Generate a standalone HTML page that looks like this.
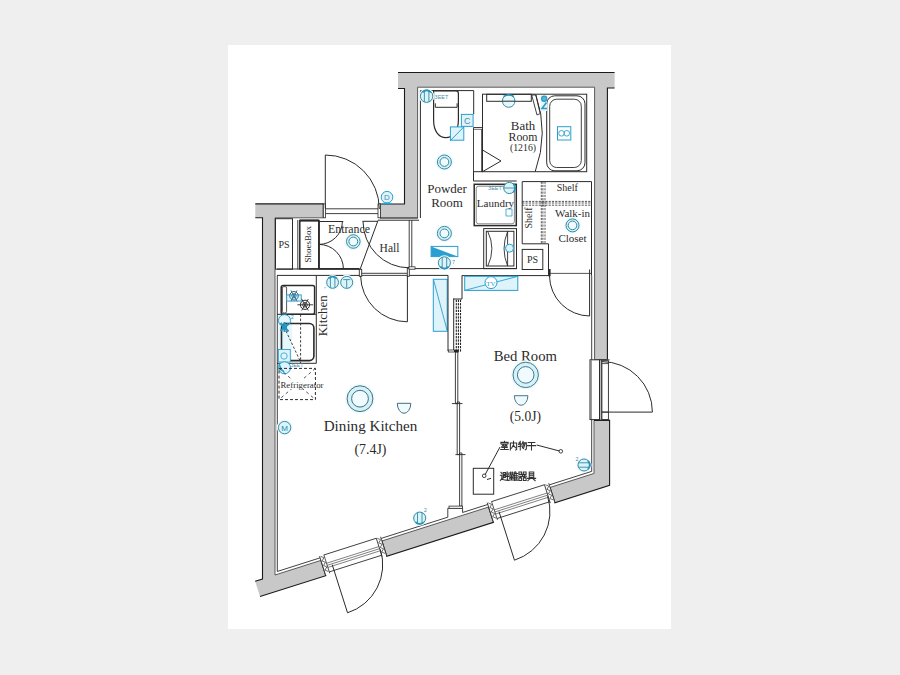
<!DOCTYPE html>
<html><head><meta charset="utf-8"><style>
html,body{margin:0;padding:0;background:#efefef;}
body{width:900px;height:675px;overflow:hidden;position:relative;font-family:"Liberation Serif",serif;}
svg{position:absolute;left:0;top:0;}
</style></head><body>
<svg width="900" height="675" viewBox="0 0 900 675">
<rect x="0" y="0" width="900" height="675" fill="#efefef"/>
<rect x="228" y="45" width="443" height="584" fill="#ffffff"/>
<polygon points="255.30,203.90 323.30,203.90 323.30,217.80 275.00,217.80 275.00,575.03 320.89,560.42 325.75,575.67 260.00,596.60 255.15,581.35 262.50,579.01 262.50,217.80 255.30,217.80" fill="#c8c8c8" stroke="none" stroke-width="0" />
<polyline points="255.15,581.35 262.50,579.01 262.50,217.80 255.30,217.80" fill="none" stroke="#1a1a1a" stroke-width="1.1" />
<polyline points="255.30,203.90 323.30,203.90 323.30,217.80" fill="none" stroke="#1a1a1a" stroke-width="1.1" />
<polyline points="323.30,217.80 275.00,217.80 275.00,575.03 320.89,560.42" fill="none" stroke="#5a5a5a" stroke-width="1.0" />
<polyline points="320.89,560.42 325.75,575.67 260.00,596.60" fill="none" stroke="#1a1a1a" stroke-width="1.1" />
<polygon points="398.00,72.50 614.60,72.50 614.60,88.00 607.40,88.00 607.40,359.60 594.60,359.60 594.60,87.20 417.60,87.20 417.60,218.00 380.00,218.00 380.00,204.00 404.50,204.00 404.50,88.50 398.00,88.50" fill="#c8c8c8" stroke="none" stroke-width="0" />
<polyline points="398.00,72.50 614.60,72.50" fill="none" stroke="#1a1a1a" stroke-width="1.2" />
<polyline points="614.60,88.00 607.40,88.00 607.40,359.60" fill="none" stroke="#1a1a1a" stroke-width="1.1" />
<polyline points="607.40,359.60 594.60,359.60 594.60,87.20 417.60,87.20 417.60,218.00 380.00,218.00" fill="none" stroke="#5a5a5a" stroke-width="1.0" />
<polyline points="380.00,218.00 380.00,204.00 404.50,204.00 404.50,88.50 398.00,88.50" fill="none" stroke="#1a1a1a" stroke-width="1.1" />
<polygon points="381.88,541.01 488.60,507.03 493.45,522.27 386.73,556.25" fill="#c8c8c8" stroke="none" stroke-width="0" />
<polyline points="381.88,541.01 488.60,507.03" fill="none" stroke="#5a5a5a" stroke-width="1.0" />
<polyline points="488.60,507.03 493.45,522.27 386.73,556.25 381.88,541.01" fill="none" stroke="#1a1a1a" stroke-width="1.1" />
<polygon points="550.06,487.46 594.00,473.47 594.00,420.40 609.60,420.40 609.60,485.30 554.91,502.71" fill="#c8c8c8" stroke="none" stroke-width="0" />
<polyline points="550.06,487.46 594.00,473.47 594.00,420.40" fill="none" stroke="#5a5a5a" stroke-width="1.0" />
<polyline points="594.00,420.40 609.60,420.40 609.60,485.30 554.91,502.71 550.06,487.46" fill="none" stroke="#1a1a1a" stroke-width="1.1" />
<polyline points="277.30,275.50 277.30,571.47 320.08,557.85" fill="none" stroke="#2b2b2b" stroke-width="0.9" />
<polygon points="319.53,556.13 323.82,554.77 329.73,573.35 325.44,574.71" fill="#fff" stroke="none" stroke-width="0" />
<line x1="319.53" y1="556.13" x2="325.44" y2="574.71" stroke="#2b2b2b" stroke-width="0.9" />
<line x1="323.82" y1="554.77" x2="329.73" y2="573.35" stroke="#2b2b2b" stroke-width="0.8" />
<polyline points="320.63,556.31 323.93,557.77 322.09,560.88 325.39,562.35 323.55,565.45 326.85,566.92 325.00,570.03 328.30,571.50" fill="none" stroke="#2b2b2b" stroke-width="0.7" />
<polygon points="376.23,538.08 380.51,536.72 386.43,555.30 382.14,556.66" fill="#fff" stroke="none" stroke-width="0" />
<line x1="376.23" y1="538.08" x2="382.14" y2="556.66" stroke="#2b2b2b" stroke-width="0.9" />
<line x1="380.51" y1="536.72" x2="386.43" y2="555.30" stroke="#2b2b2b" stroke-width="0.8" />
<polyline points="377.33,538.26 380.63,539.72 378.79,542.83 382.09,544.30 380.24,547.40 383.54,548.87 381.70,551.98 385.00,553.45" fill="none" stroke="#2b2b2b" stroke-width="0.7" />
<line x1="323.88" y1="554.96" x2="376.29" y2="538.27" stroke="#2b2b2b" stroke-width="0.9" />
<line x1="326.52" y1="563.25" x2="378.93" y2="546.56" stroke="#2b2b2b" stroke-width="0.6" />
<line x1="327.18" y1="565.35" x2="379.59" y2="548.66" stroke="#2b2b2b" stroke-width="0.6" />
<line x1="327.85" y1="567.44" x2="380.26" y2="550.76" stroke="#2b2b2b" stroke-width="0.6" />
<line x1="329.28" y1="571.92" x2="381.69" y2="555.24" stroke="#2b2b2b" stroke-width="0.9" />
<polygon points="487.23,502.74 491.52,501.38 497.44,519.96 493.15,521.32" fill="#fff" stroke="none" stroke-width="0" />
<line x1="487.23" y1="502.74" x2="493.15" y2="521.32" stroke="#2b2b2b" stroke-width="0.9" />
<line x1="491.52" y1="501.38" x2="497.44" y2="519.96" stroke="#2b2b2b" stroke-width="0.8" />
<polyline points="488.34,502.91 491.64,504.38 489.80,507.49 493.10,508.96 491.25,512.06 494.55,513.53 492.71,516.64 496.01,518.10" fill="none" stroke="#2b2b2b" stroke-width="0.7" />
<polygon points="544.41,484.54 548.70,483.17 554.61,501.75 550.32,503.12" fill="#fff" stroke="none" stroke-width="0" />
<line x1="544.41" y1="484.54" x2="550.32" y2="503.12" stroke="#2b2b2b" stroke-width="0.9" />
<line x1="548.70" y1="483.17" x2="554.61" y2="501.75" stroke="#2b2b2b" stroke-width="0.8" />
<polyline points="545.51,484.71 548.81,486.18 546.97,489.29 550.27,490.75 548.42,493.86 551.73,495.33 549.88,498.43 553.18,499.90" fill="none" stroke="#2b2b2b" stroke-width="0.7" />
<line x1="491.58" y1="501.57" x2="544.47" y2="484.73" stroke="#2b2b2b" stroke-width="0.9" />
<line x1="494.22" y1="509.86" x2="547.11" y2="493.02" stroke="#2b2b2b" stroke-width="0.6" />
<line x1="494.89" y1="511.95" x2="547.77" y2="495.12" stroke="#2b2b2b" stroke-width="0.6" />
<line x1="495.56" y1="514.05" x2="548.44" y2="497.21" stroke="#2b2b2b" stroke-width="0.6" />
<line x1="496.98" y1="518.53" x2="549.87" y2="501.69" stroke="#2b2b2b" stroke-width="0.9" />
<line x1="332.22" y1="564.69" x2="347.54" y2="612.81" stroke="#2b2b2b" stroke-width="1.0" />
<path d="M347.54,612.81 A50.5,50.5 0 0 0 380.34,549.37" fill="none" stroke="#2b2b2b" stroke-width="1"/>
<line x1="498.97" y1="511.60" x2="514.45" y2="560.19" stroke="#2b2b2b" stroke-width="1.0" />
<path d="M514.45,560.19 A51.0,51.0 0 0 0 547.57,496.13" fill="none" stroke="#2b2b2b" stroke-width="1"/>
<polyline points="381.06,538.43 447.80,517.18 447.80,508.30 462.60,508.30 462.60,512.47 487.78,504.46" fill="none" stroke="#2b2b2b" stroke-width="0.9" />
<polyline points="549.24,484.89 591.70,471.37 591.70,275.60" fill="none" stroke="#2b2b2b" stroke-width="0.9" />
<rect x="323.30" y="203.90" width="2.20" height="13.90" fill="#fff" stroke="#2b2b2b" stroke-width="0.8" />
<rect x="378.00" y="203.90" width="2.50" height="13.90" fill="#fff" stroke="#2b2b2b" stroke-width="0.8" />
<line x1="325.50" y1="208.80" x2="378.00" y2="208.80" stroke="#2b2b2b" stroke-width="0.9" />
<line x1="325.50" y1="213.60" x2="378.00" y2="213.60" stroke="#2b2b2b" stroke-width="0.9" />
<line x1="325.30" y1="155.00" x2="325.30" y2="208.50" stroke="#2b2b2b" stroke-width="1.0" />
<path d="M325.3,155 A54,54 0 0 1 379.3,209" fill="none" stroke="#2b2b2b" stroke-width="1"/>
<line x1="277.00" y1="269.00" x2="359.40" y2="269.00" stroke="#2b2b2b" stroke-width="1.0" />
<line x1="409.30" y1="268.60" x2="516.70" y2="268.60" stroke="#2b2b2b" stroke-width="1.0" />
<line x1="277.00" y1="275.40" x2="359.40" y2="275.40" stroke="#2b2b2b" stroke-width="1.0" />
<line x1="409.30" y1="275.40" x2="448.00" y2="275.40" stroke="#2b2b2b" stroke-width="1.0" />
<line x1="361.70" y1="273.30" x2="407.30" y2="273.30" stroke="#2b2b2b" stroke-width="0.9" />
<line x1="361.70" y1="275.40" x2="407.30" y2="275.40" stroke="#2b2b2b" stroke-width="0.9" />
<line x1="462.00" y1="275.60" x2="549.00" y2="275.60" stroke="#2b2b2b" stroke-width="1.0" />
<rect x="359.30" y="269.30" width="2.40" height="7.00" fill="#fff" stroke="#2b2b2b" stroke-width="0.9" />
<rect x="407.30" y="268.00" width="2.00" height="8.30" fill="#fff" stroke="#2b2b2b" stroke-width="0.9" />
<line x1="407.40" y1="276.00" x2="407.40" y2="321.80" stroke="#2b2b2b" stroke-width="1.0" />
<path d="M360.6,276 A46.8,46.8 0 0 0 407.4,321.8" fill="none" stroke="#2b2b2b" stroke-width="1.0" />
<rect x="275.50" y="218.70" width="17.00" height="50.50" fill="none" stroke="#2b2b2b" stroke-width="1.0" />
<text x="284.00" y="248.00" font-size="10" text-anchor="middle" fill="#2b2b2b" >PS</text>
<line x1="297.80" y1="220.00" x2="297.80" y2="269.20" stroke="#2b2b2b" stroke-width="0.9" />
<rect x="299.80" y="220.50" width="19.10" height="48.40" fill="none" stroke="#2b2b2b" stroke-width="1.5" />
<line x1="299.80" y1="220.50" x2="318.90" y2="220.50" stroke="#2b2b2b" stroke-width="2.0" />
<line x1="318.90" y1="220.50" x2="318.90" y2="268.90" stroke="#2b2b2b" stroke-width="1.8" />
<text x="0" y="0" font-size="9" text-anchor="middle" fill="#2b2b2b" transform="translate(310.8,244.2) rotate(-90)">ShoesBox</text>
<line x1="318.90" y1="221.50" x2="343.30" y2="221.50" stroke="#2b2b2b" stroke-width="1.0" />
<path d="M318.9,244.4 A23.5,23 0 0 0 342.4,221.5" fill="none" stroke="#2b2b2b" stroke-width="1.0" />
<path d="M318.9,244.4 A24.5,24.5 0 0 1 343.4,268.9" fill="none" stroke="#2b2b2b" stroke-width="1.0" />
<line x1="318.90" y1="268.90" x2="359.40" y2="268.90" stroke="#2b2b2b" stroke-width="1.6" />
<line x1="362.50" y1="221.30" x2="378.00" y2="221.30" stroke="#2b2b2b" stroke-width="1.0" />
<line x1="378.00" y1="220.50" x2="360.20" y2="269.00" stroke="#2b2b2b" stroke-width="1.0" />
<path d="M363,221.3 A46,46.5 0 0 0 409.2,267.8" fill="none" stroke="#2b2b2b" stroke-width="1.0" />
<line x1="378.00" y1="220.20" x2="419.00" y2="220.20" stroke="#2b2b2b" stroke-width="1.0" />
<line x1="380.00" y1="218.00" x2="418.00" y2="218.00" stroke="#2b2b2b" stroke-width="0.8" />
<line x1="409.20" y1="220.20" x2="409.20" y2="267.80" stroke="#2b2b2b" stroke-width="0.9" />
<line x1="411.80" y1="220.20" x2="411.80" y2="267.80" stroke="#2b2b2b" stroke-width="0.9" />
<rect x="409.00" y="266.80" width="6.00" height="2.40" fill="#fff" stroke="#2b2b2b" stroke-width="0.8" />
<text x="349.00" y="232.80" font-size="12.3" text-anchor="middle" fill="#2b2b2b"  textLength="42" lengthAdjust="spacingAndGlyphs">Entrance</text>
<text x="389.50" y="252.00" font-size="11.5" text-anchor="middle" fill="#2b2b2b" >Hall</text>
<circle cx="353.30" cy="241.50" r="8.80" fill="#eefafd" stroke="none" stroke-width="1.0" />
<circle cx="353.30" cy="241.50" r="6.80" fill="#d4f2fa" stroke="#3a8aa0" stroke-width="1.0" />
<circle cx="353.30" cy="241.50" r="4.40" fill="#effbfe" stroke="#3a8aa0" stroke-width="1.0" />
<circle cx="387.00" cy="197.20" r="5.80" fill="#def3fa" stroke="#2a9fd0" stroke-width="1.0" />
<text x="387.00" y="200.40" font-size="8" text-anchor="middle" fill="#4a8fa8" font-family="Liberation Sans">D</text>
<line x1="382.50" y1="203.60" x2="391.50" y2="203.60" stroke="#2a9fd0" stroke-width="1.5" />
<polyline points="420.40,218.00 420.40,90.60 473.70,90.60 473.70,114.00" fill="none" stroke="#2b2b2b" stroke-width="1.0" />
<path d="M433.6,90.9 H456 Q458.4,90.9 458.4,93.5 V120 C458.4,131.5 452.6,137.6 445.8,137.6 C439,137.6 433.6,131.5 433.6,120 Z" fill="none" stroke="#2b2b2b" stroke-width="1.2" />
<path d="M435.3,103.3 V107.3 H457.1 V103.3" fill="none" stroke="#2b2b2b" stroke-width="1.0" />
<circle cx="426.60" cy="96.20" r="7.80" fill="#eefafd" stroke="none" stroke-width="1.0" />
<circle cx="426.60" cy="96.20" r="6.20" fill="#d9f4fb" stroke="#3a8aa0" stroke-width="1.0" />
<line x1="424.40" y1="90.62" x2="424.40" y2="101.78" stroke="#3a8aa0" stroke-width="0.9" />
<line x1="428.90" y1="90.62" x2="428.90" y2="101.78" stroke="#3a8aa0" stroke-width="0.9" />
<path d="M422.40,92.20 Q426.60,88.60 430.80,92.20" fill="none" stroke="#2a92bd" stroke-width="1.8" />
<text x="441.50" y="98.50" font-size="5.5" text-anchor="middle" fill="#4a8fa8" font-family="Liberation Sans">3EET</text>
<rect x="461.40" y="114.40" width="11.70" height="12.00" fill="#def3fa" stroke="#2a9fd0" stroke-width="1.0" />
<text x="467.30" y="123.50" font-size="9" text-anchor="middle" fill="#4a8fa8" font-family="Liberation Sans">C</text>
<rect x="450.40" y="126.90" width="13.40" height="13.30" fill="#def3fa" stroke="#2a9fd0" stroke-width="1.0" />
<line x1="450.30" y1="140.60" x2="463.60" y2="127.20" stroke="#2a9fd0" stroke-width="1.0" />
<circle cx="444.40" cy="162.00" r="9.00" fill="#eefafd" stroke="none" stroke-width="1.0" />
<circle cx="444.40" cy="162.00" r="7.00" fill="#d4f2fa" stroke="#3a8aa0" stroke-width="1.0" />
<circle cx="444.40" cy="162.00" r="4.40" fill="#effbfe" stroke="#3a8aa0" stroke-width="1.0" />
<text x="447.10" y="193.40" font-size="13" text-anchor="middle" fill="#2b2b2b" >Powder</text>
<text x="447.10" y="206.80" font-size="13" text-anchor="middle" fill="#2b2b2b" >Room</text>
<circle cx="444.40" cy="233.40" r="9.00" fill="#eefafd" stroke="none" stroke-width="1.0" />
<circle cx="444.40" cy="233.40" r="7.00" fill="#d4f2fa" stroke="#3a8aa0" stroke-width="1.0" />
<circle cx="444.40" cy="233.40" r="4.40" fill="#effbfe" stroke="#3a8aa0" stroke-width="1.0" />
<rect x="431.10" y="246.40" width="26.70" height="10.20" fill="#fff" stroke="#2a9fd0" stroke-width="1.0" />
<polygon points="431.1,246.4 431.1,256.6 457.8,256.6" fill="#2a9fd0"/>
<circle cx="444.40" cy="262.80" r="7.60" fill="#eefafd" stroke="none" stroke-width="1.0" />
<circle cx="444.40" cy="262.80" r="6.00" fill="#d9f4fb" stroke="#3a8aa0" stroke-width="1.0" />
<line x1="442.20" y1="257.40" x2="442.20" y2="268.20" stroke="#3a8aa0" stroke-width="0.9" />
<line x1="446.70" y1="257.40" x2="446.70" y2="268.20" stroke="#3a8aa0" stroke-width="0.9" />
<path d="M440.20,266.80 Q444.40,270.40 448.60,266.80" fill="none" stroke="#2a92bd" stroke-width="1.8" />
<text x="453.50" y="263.50" font-size="5.5" text-anchor="middle" fill="#4a8fa8" font-family="Liberation Sans">7</text>
<line x1="473.50" y1="127.50" x2="482.50" y2="127.50" stroke="#2b2b2b" stroke-width="0.9" />
<line x1="473.50" y1="129.30" x2="482.50" y2="129.30" stroke="#2b2b2b" stroke-width="0.7" />
<line x1="473.50" y1="127.50" x2="473.50" y2="172.00" stroke="#2b2b2b" stroke-width="0.9" />
<line x1="481.70" y1="129.30" x2="481.70" y2="172.00" stroke="#2b2b2b" stroke-width="0.9" />
<rect x="482.50" y="94.20" width="104.20" height="77.50" fill="none" stroke="#2b2b2b" stroke-width="1.0" />
<line x1="473.50" y1="171.70" x2="482.50" y2="171.70" stroke="#2b2b2b" stroke-width="1.0" />
<rect x="486.70" y="94.30" width="44.60" height="7.00" fill="none" stroke="#2b2b2b" stroke-width="1.0" />
<circle cx="508.70" cy="101.00" r="6.30" fill="#e6f8fc" stroke="#3a8aa0" stroke-width="1.0" />
<line x1="502.40" y1="101.20" x2="515.00" y2="101.20" stroke="#2b2b2b" stroke-width="1.0" />
<path d="M503.5,96.5 Q508.7,93.5 513.9,96.5" fill="none" stroke="#2a90b8" stroke-width="1.6" />
<polygon points="531.7,95 535.8,95 540.2,113.5 537,115" fill="#fff" stroke="#2b2b2b" stroke-width="0.9"/>
<path d="M535.8,94.6 Q549,133 535.2,171.7" fill="none" stroke="#2b2b2b" stroke-width="1.0" />
<rect x="546.7" y="95.8" width="38.3" height="75" rx="8" fill="none" stroke="#2b2b2b" stroke-width="1"/>
<rect x="549.7" y="99.2" width="31.6" height="68.3" rx="7" fill="none" stroke="#2b2b2b" stroke-width="0.9"/>
<rect x="540.5" y="95" width="6.5" height="16" fill="#e3f6fb"/>
<circle cx="544.20" cy="98.80" r="2.60" fill="#5bb5d8" stroke="#2f9ac4" stroke-width="1.2" />
<path d="M546.5,102.5 L542,108.5 H547" fill="none" stroke="#2f9ac4" stroke-width="1.6" />
<rect x="557.50" y="126.70" width="13.30" height="13.30" fill="#fff" stroke="#2a9fd0" stroke-width="1.0" />
<circle cx="561.50" cy="133.30" r="2.80" fill="none" stroke="#2a9fd0" stroke-width="0.9" />
<circle cx="566.80" cy="133.30" r="2.80" fill="none" stroke="#2a9fd0" stroke-width="0.9" />
<polygon points="482.5,150 501,161 482.5,171.7" fill="none" stroke="#2b2b2b" stroke-width="1"/>
<text x="523.00" y="130.00" font-size="12.3" text-anchor="middle" fill="#2b2b2b"  textLength="24.3" lengthAdjust="spacingAndGlyphs">Bath</text>
<text x="523.00" y="140.50" font-size="12.3" text-anchor="middle" fill="#2b2b2b"  textLength="28.9" lengthAdjust="spacingAndGlyphs">Room</text>
<text x="523.00" y="150.50" font-size="9.6" text-anchor="middle" fill="#2b2b2b"  textLength="26" lengthAdjust="spacingAndGlyphs">(1216)</text>
<polyline points="473.50,172.00 473.50,181.00 516.70,181.00" fill="none" stroke="#2b2b2b" stroke-width="1.0" />
<rect x="474.20" y="184.30" width="42.10" height="41.30" fill="none" stroke="#2b2b2b" stroke-width="1.5" />
<rect x="476.2" y="186.2" width="38.2" height="37.6" rx="2.5" fill="none" stroke="#666" stroke-width="0.8"/>
<circle cx="509.30" cy="188.00" r="5.60" fill="#dcf5fb" stroke="#3a8aa0" stroke-width="1.0" />
<line x1="503.70" y1="188.00" x2="514.90" y2="188.00" stroke="#3a8aa0" stroke-width="0.9" />
<path d="M513.5,183.5 Q516.5,188 513.5,192.5" fill="none" stroke="#2a92bd" stroke-width="1.8" />
<text x="495.00" y="189.50" font-size="5.5" text-anchor="middle" fill="#4a8fa8" font-family="Liberation Sans">3EET</text>
<path d="M506,209 L512,209 L512,216 L506,216 Z" fill="none" stroke="#2a9fd0" stroke-width="0.8" />
<text x="495.50" y="207.30" font-size="11" text-anchor="middle" fill="#2b2b2b" >Laundry</text>
<rect x="483.70" y="228.60" width="32.80" height="40.00" fill="none" stroke="#2b2b2b" stroke-width="1.0" />
<rect x="486.30" y="231.30" width="27.60" height="34.70" fill="none" stroke="#2b2b2b" stroke-width="1.0" />
<line x1="507.60" y1="231.30" x2="507.60" y2="266.00" stroke="#2b2b2b" stroke-width="0.9" />
<path d="M487.8,231.5 Q496,248.6 487.8,266" fill="none" stroke="#2b2b2b" stroke-width="0.9" />
<path d="M507.6,231.5 Q500.5,248.6 507.6,266" fill="none" stroke="#2b2b2b" stroke-width="0.9" />
<circle cx="509.50" cy="248.20" r="4.00" fill="#def3fa" stroke="#2a9fd0" stroke-width="1.0" />
<polyline points="522.20,243.80 522.20,181.60 591.50,181.60" fill="none" stroke="#2b2b2b" stroke-width="1.0" />
<polyline points="522.20,243.80 548.50,243.80 548.50,274.80" fill="none" stroke="#2b2b2b" stroke-width="1.0" />
<line x1="591.50" y1="181.60" x2="591.50" y2="275.70" stroke="#2b2b2b" stroke-width="1.0" />
<line x1="541.30" y1="181.60" x2="541.30" y2="243.80" stroke="#2b2b2b" stroke-width="0.8" stroke-dasharray="2.2,1.1"/>
<line x1="542.90" y1="181.60" x2="542.90" y2="243.80" stroke="#2b2b2b" stroke-width="0.8" stroke-dasharray="2.2,1.1"/>
<line x1="545.00" y1="181.60" x2="545.00" y2="243.80" stroke="#2b2b2b" stroke-width="0.8" stroke-dasharray="2.2,1.1"/>
<line x1="522.20" y1="201.40" x2="591.50" y2="201.40" stroke="#2b2b2b" stroke-width="0.8" stroke-dasharray="2.2,1.1"/>
<line x1="522.20" y1="203.00" x2="591.50" y2="203.00" stroke="#2b2b2b" stroke-width="0.8" stroke-dasharray="2.2,1.1"/>
<line x1="522.20" y1="205.20" x2="591.50" y2="205.20" stroke="#2b2b2b" stroke-width="0.8" stroke-dasharray="2.2,1.1"/>
<rect x="522.20" y="249.40" width="20.60" height="20.10" fill="none" stroke="#2b2b2b" stroke-width="1.0" />
<text x="532.50" y="263.00" font-size="10" text-anchor="middle" fill="#2b2b2b" >PS</text>
<text x="567.20" y="191.00" font-size="10" text-anchor="middle" fill="#2b2b2b" >Shelf</text>
<text x="572.50" y="216.50" font-size="11" text-anchor="middle" fill="#2b2b2b" >Walk-in</text>
<text x="572.50" y="241.50" font-size="11" text-anchor="middle" fill="#2b2b2b" >Closet</text>
<text x="0" y="0" font-size="10" text-anchor="middle" fill="#2b2b2b" transform="translate(531.5,218) rotate(-90)">Shelf</text>
<circle cx="572.50" cy="225.40" r="8.50" fill="#eefafd" stroke="none" stroke-width="1.0" />
<circle cx="572.50" cy="225.40" r="6.50" fill="#d4f2fa" stroke="#3a8aa0" stroke-width="1.0" />
<circle cx="572.50" cy="225.40" r="4.30" fill="#effbfe" stroke="#3a8aa0" stroke-width="1.0" />
<rect x="548.30" y="269.00" width="2.30" height="7.20" fill="#2b2b2b" stroke="none" stroke-width="0" />
<line x1="548.50" y1="273.40" x2="591.50" y2="273.40" stroke="#2b2b2b" stroke-width="0.8" />
<line x1="589.60" y1="269.50" x2="589.60" y2="316.00" stroke="#2b2b2b" stroke-width="1.0" />
<path d="M549.5,276 A40.5,40.5 0 0 0 589.6,316" fill="none" stroke="#2b2b2b" stroke-width="1.0" />
<line x1="316.30" y1="275.40" x2="316.30" y2="363.30" stroke="#2b2b2b" stroke-width="1.0" />
<line x1="277.00" y1="363.30" x2="316.30" y2="363.30" stroke="#2b2b2b" stroke-width="1.0" />
<line x1="277.00" y1="314.30" x2="316.30" y2="314.30" stroke="#2b2b2b" stroke-width="1.0" />
<rect x="281.2" y="285.6" width="33.4" height="28.6" rx="2" fill="none" stroke="#2b2b2b" stroke-width="1.5"/>
<rect x="282.4" y="286.6" width="4.2" height="26.4" rx="1.5" fill="none" stroke="#2b2b2b" stroke-width="0.8"/>
<rect x="286.70" y="294.90" width="14.60" height="6.20" fill="#def3fa" stroke="#2a9fd0" stroke-width="0.9" />
<circle cx="294.00" cy="295.80" r="4.30" fill="none" stroke="#2a6a8a" stroke-width="1.0" />
<circle cx="294.00" cy="295.80" r="2.15" fill="none" stroke="#2a6a8a" stroke-width="0.9" />
<line x1="290.85" y1="290.34" x2="297.15" y2="301.26" stroke="#2a6a8a" stroke-width="0.9" />
<line x1="297.15" y1="290.34" x2="290.85" y2="301.26" stroke="#2a6a8a" stroke-width="0.9" />
<circle cx="305.00" cy="304.80" r="4.60" fill="none" stroke="#2b2b2b" stroke-width="1.0" />
<circle cx="305.00" cy="304.80" r="2.30" fill="none" stroke="#2b2b2b" stroke-width="0.9" />
<line x1="301.70" y1="299.08" x2="308.30" y2="310.52" stroke="#2b2b2b" stroke-width="0.9" />
<line x1="308.30" y1="299.08" x2="301.70" y2="310.52" stroke="#2b2b2b" stroke-width="0.9" />
<line x1="297.40" y1="304.80" x2="313.10" y2="304.80" stroke="#2b2b2b" stroke-width="0.9" />
<rect x="278" y="315" width="14" height="47" fill="#e6f7fc"/>
<rect x="281.5" y="323.5" width="32.4" height="37.1" rx="4.5" fill="none" stroke="#2b2b2b" stroke-width="1.6"/>
<line x1="300.60" y1="314.30" x2="300.60" y2="363.00" stroke="#2b2b2b" stroke-width="0.9" stroke-dasharray="2.5,1.8"/>
<line x1="286.00" y1="331.00" x2="300.60" y2="362.00" stroke="#2b2b2b" stroke-width="0.9" stroke-dasharray="2.5,1.8"/>
<circle cx="284.50" cy="320.60" r="6.00" fill="none" stroke="#2a9fd0" stroke-width="1.0" />
<path d="M280.5,323 L288.5,331.5 M288.5,323.5 L280.5,331 M284.5,322 L284.5,332" fill="none" stroke="#2a92bd" stroke-width="2.0" />
<circle cx="284.50" cy="327.00" r="2.60" fill="#2a92bd" stroke="none" stroke-width="1.0" />
<text x="292.50" y="318.50" font-size="5" text-anchor="middle" fill="#4a8fa8" font-family="Liberation Sans">2</text>
<rect x="278.30" y="349.50" width="12.00" height="12.50" fill="#def3fa" stroke="#2a9fd0" stroke-width="0.9" />
<circle cx="284.00" cy="356.00" r="3.20" fill="none" stroke="#2a9fd0" stroke-width="0.8" />
<circle cx="284.50" cy="367.80" r="6.00" fill="#def3fa" stroke="#2a9fd0" stroke-width="1.0" />
<path d="M279,364 L281,369 L284,372" fill="none" stroke="#2a9fd0" stroke-width="1.6" />
<text x="297.00" y="366.50" font-size="5" text-anchor="middle" fill="#4a8fa8" font-family="Liberation Sans">3EET</text>
<rect x="279.00" y="368.40" width="36.40" height="31.20" fill="none" stroke="#2b2b2b" stroke-width="1.0" stroke-dasharray="3,2"/>
<line x1="279.00" y1="368.40" x2="315.40" y2="399.60" stroke="#2b2b2b" stroke-width="0.8" stroke-dasharray="3,3"/>
<line x1="315.40" y1="368.40" x2="279.00" y2="399.60" stroke="#2b2b2b" stroke-width="0.8" stroke-dasharray="3,3"/>
<rect x="280" y="379" width="35" height="10" fill="#fff"/>
<text x="302.00" y="388.00" font-size="8.2" text-anchor="middle" fill="#2b2b2b"  textLength="43" lengthAdjust="spacingAndGlyphs">Refrigerator</text>
<text x="0" y="0" font-size="13" text-anchor="middle" fill="#2b2b2b" transform="translate(326.6,315.7) rotate(-90)">Kitchen</text>
<circle cx="332.60" cy="282.40" r="7.50" fill="#eefafd" stroke="none" stroke-width="1.0" />
<circle cx="332.60" cy="282.40" r="5.90" fill="#d9f4fb" stroke="#3a8aa0" stroke-width="1.0" />
<line x1="330.40" y1="277.09" x2="330.40" y2="287.71" stroke="#3a8aa0" stroke-width="0.9" />
<line x1="334.90" y1="277.09" x2="334.90" y2="287.71" stroke="#3a8aa0" stroke-width="0.9" />
<path d="M328.40,278.40 Q332.60,274.80 336.80,278.40" fill="none" stroke="#2a92bd" stroke-width="1.8" />
<text x="324.80" y="288.00" font-size="7" text-anchor="middle" fill="#3a8aa0" >,</text>
<circle cx="346.70" cy="282.40" r="7.60" fill="#eefafd" stroke="none" stroke-width="1.0" />
<circle cx="346.70" cy="282.40" r="6.00" fill="#d9f4fb" stroke="#3a8aa0" stroke-width="1.0" />
<line x1="343.20" y1="279.60" x2="350.20" y2="279.60" stroke="#3a8aa0" stroke-width="0.9" />
<line x1="346.70" y1="279.60" x2="346.70" y2="287.80" stroke="#3a8aa0" stroke-width="0.9" />
<circle cx="360.00" cy="398.70" r="14.90" fill="#eefafd" stroke="none" stroke-width="1.0" />
<circle cx="360.00" cy="398.70" r="12.90" fill="#d4f2fa" stroke="#43707e" stroke-width="1.0" />
<circle cx="360.00" cy="398.70" r="8.40" fill="#effbfe" stroke="#43707e" stroke-width="1.0" />
<path d="M397.3,403.3 L410.8,403.3 A6.75,10 0 0 1 397.3,403.3 Z" fill="#eefafd" stroke="#41707f" stroke-width="1.0" />
<circle cx="284.60" cy="427.60" r="7.80" fill="#eefafd" stroke="none" stroke-width="1.0" />
<circle cx="284.60" cy="427.60" r="6.20" fill="#d9f4fb" stroke="#3a8aa0" stroke-width="1.0" />
<text x="284.60" y="430.60" font-size="8" text-anchor="middle" fill="#2f86a8" font-family="Liberation Sans">M</text>
<text x="370.55" y="431.20" font-size="14" text-anchor="middle" fill="#2b2b2b"  textLength="93.7" lengthAdjust="spacingAndGlyphs">Dining Kitchen</text>
<text x="370.50" y="454.30" font-size="14" text-anchor="middle" fill="#2b2b2b"  textLength="32" lengthAdjust="spacingAndGlyphs">(7.4J)</text>
<circle cx="419.70" cy="518.10" r="7.60" fill="#eefafd" stroke="none" stroke-width="1.0" />
<circle cx="419.70" cy="518.10" r="6.00" fill="#d9f4fb" stroke="#3a8aa0" stroke-width="1.0" />
<line x1="417.50" y1="512.70" x2="417.50" y2="523.50" stroke="#3a8aa0" stroke-width="0.9" />
<line x1="422.00" y1="512.70" x2="422.00" y2="523.50" stroke="#3a8aa0" stroke-width="0.9" />
<path d="M415.50,522.10 Q419.70,525.70 423.90,522.10" fill="none" stroke="#2a92bd" stroke-width="1.8" />
<text x="425.50" y="512.00" font-size="5" text-anchor="middle" fill="#3a8aa0" font-family="Liberation Sans">2</text>
<rect x="433.30" y="279.30" width="13.90" height="52.00" fill="#def3fa" stroke="#2a9fd0" stroke-width="1.0" />
<line x1="433.60" y1="280.00" x2="447.00" y2="330.00" stroke="#2a9fd0" stroke-width="0.9" />
<line x1="448.00" y1="275.40" x2="448.00" y2="351.00" stroke="#2b2b2b" stroke-width="1.0" />
<line x1="462.00" y1="275.40" x2="462.00" y2="299.00" stroke="#2b2b2b" stroke-width="1.0" />
<line x1="453.00" y1="299.00" x2="462.00" y2="299.00" stroke="#2b2b2b" stroke-width="1.0" />
<line x1="453.70" y1="298.70" x2="453.70" y2="350.60" stroke="#2b2b2b" stroke-width="1.0" />
<rect x="455.75" y="299.80" width="1.1" height="2.3" fill="#222"/>
<rect x="457.85" y="299.80" width="1.1" height="2.3" fill="#222"/>
<rect x="459.95" y="299.80" width="1.1" height="2.3" fill="#222"/>
<rect x="455.75" y="303.10" width="1.1" height="2.3" fill="#222"/>
<rect x="457.85" y="303.10" width="1.1" height="2.3" fill="#222"/>
<rect x="459.95" y="303.10" width="1.1" height="2.3" fill="#222"/>
<rect x="455.75" y="306.40" width="1.1" height="2.3" fill="#222"/>
<rect x="457.85" y="306.40" width="1.1" height="2.3" fill="#222"/>
<rect x="459.95" y="306.40" width="1.1" height="2.3" fill="#222"/>
<rect x="455.75" y="309.70" width="1.1" height="2.3" fill="#222"/>
<rect x="457.85" y="309.70" width="1.1" height="2.3" fill="#222"/>
<rect x="459.95" y="309.70" width="1.1" height="2.3" fill="#222"/>
<rect x="455.75" y="313.00" width="1.1" height="2.3" fill="#222"/>
<rect x="457.85" y="313.00" width="1.1" height="2.3" fill="#222"/>
<rect x="459.95" y="313.00" width="1.1" height="2.3" fill="#222"/>
<rect x="455.75" y="316.30" width="1.1" height="2.3" fill="#222"/>
<rect x="457.85" y="316.30" width="1.1" height="2.3" fill="#222"/>
<rect x="459.95" y="316.30" width="1.1" height="2.3" fill="#222"/>
<rect x="455.75" y="319.60" width="1.1" height="2.3" fill="#222"/>
<rect x="457.85" y="319.60" width="1.1" height="2.3" fill="#222"/>
<rect x="459.95" y="319.60" width="1.1" height="2.3" fill="#222"/>
<rect x="455.75" y="322.90" width="1.1" height="2.3" fill="#222"/>
<rect x="457.85" y="322.90" width="1.1" height="2.3" fill="#222"/>
<rect x="459.95" y="322.90" width="1.1" height="2.3" fill="#222"/>
<rect x="455.75" y="326.20" width="1.1" height="2.3" fill="#222"/>
<rect x="457.85" y="326.20" width="1.1" height="2.3" fill="#222"/>
<rect x="459.95" y="326.20" width="1.1" height="2.3" fill="#222"/>
<rect x="455.75" y="329.50" width="1.1" height="2.3" fill="#222"/>
<rect x="457.85" y="329.50" width="1.1" height="2.3" fill="#222"/>
<rect x="459.95" y="329.50" width="1.1" height="2.3" fill="#222"/>
<rect x="455.75" y="332.80" width="1.1" height="2.3" fill="#222"/>
<rect x="457.85" y="332.80" width="1.1" height="2.3" fill="#222"/>
<rect x="459.95" y="332.80" width="1.1" height="2.3" fill="#222"/>
<rect x="455.75" y="336.10" width="1.1" height="2.3" fill="#222"/>
<rect x="457.85" y="336.10" width="1.1" height="2.3" fill="#222"/>
<rect x="459.95" y="336.10" width="1.1" height="2.3" fill="#222"/>
<rect x="455.75" y="339.40" width="1.1" height="2.3" fill="#222"/>
<rect x="457.85" y="339.40" width="1.1" height="2.3" fill="#222"/>
<rect x="459.95" y="339.40" width="1.1" height="2.3" fill="#222"/>
<rect x="455.75" y="342.70" width="1.1" height="2.3" fill="#222"/>
<rect x="457.85" y="342.70" width="1.1" height="2.3" fill="#222"/>
<rect x="459.95" y="342.70" width="1.1" height="2.3" fill="#222"/>
<rect x="455.75" y="346.00" width="1.1" height="2.3" fill="#222"/>
<rect x="457.85" y="346.00" width="1.1" height="2.3" fill="#222"/>
<rect x="459.95" y="346.00" width="1.1" height="2.3" fill="#222"/>
<rect x="455.75" y="349.30" width="1.1" height="2.3" fill="#222"/>
<rect x="457.85" y="349.30" width="1.1" height="2.3" fill="#222"/>
<rect x="459.95" y="349.30" width="1.1" height="2.3" fill="#222"/>
<rect x="448.30" y="350.00" width="10.00" height="2.00" fill="#fff" stroke="#2b2b2b" stroke-width="0.8" />
<rect x="454" y="350" width="4.3" height="2" fill="#222"/>
<line x1="455.40" y1="352.00" x2="455.40" y2="403.60" stroke="#2b2b2b" stroke-width="0.9" />
<line x1="457.80" y1="352.00" x2="457.80" y2="403.60" stroke="#2b2b2b" stroke-width="0.9" />
<line x1="455.40" y1="352.00" x2="457.80" y2="352.00" stroke="#2b2b2b" stroke-width="0.8" />
<line x1="455.40" y1="403.60" x2="457.80" y2="403.60" stroke="#2b2b2b" stroke-width="0.8" />
<line x1="457.20" y1="402.00" x2="457.20" y2="454.60" stroke="#2b2b2b" stroke-width="0.9" />
<line x1="459.60" y1="402.00" x2="459.60" y2="454.60" stroke="#2b2b2b" stroke-width="0.9" />
<line x1="457.20" y1="402.00" x2="459.60" y2="402.00" stroke="#2b2b2b" stroke-width="0.8" />
<line x1="457.20" y1="454.60" x2="459.60" y2="454.60" stroke="#2b2b2b" stroke-width="0.8" />
<line x1="459.60" y1="453.00" x2="459.60" y2="506.10" stroke="#2b2b2b" stroke-width="0.9" />
<line x1="461.90" y1="453.00" x2="461.90" y2="506.10" stroke="#2b2b2b" stroke-width="0.9" />
<line x1="459.60" y1="453.00" x2="461.90" y2="453.00" stroke="#2b2b2b" stroke-width="0.8" />
<line x1="459.60" y1="506.10" x2="461.90" y2="506.10" stroke="#2b2b2b" stroke-width="0.8" />
<line x1="451.90" y1="403.60" x2="462.50" y2="403.60" stroke="#2b2b2b" stroke-width="0.9" />
<line x1="455.40" y1="454.60" x2="465.50" y2="454.60" stroke="#2b2b2b" stroke-width="0.9" />
<rect x="449.00" y="506.10" width="13.60" height="2.20" fill="#fff" stroke="#2b2b2b" stroke-width="0.8" />
<rect x="464.70" y="276.30" width="53.10" height="14.10" fill="#def3fa" stroke="#2a9fd0" stroke-width="1.0" />
<line x1="464.70" y1="290.40" x2="517.80" y2="276.30" stroke="#2a9fd0" stroke-width="0.9" />
<circle cx="491.00" cy="282.60" r="6.00" fill="#fff" stroke="#2a9fd0" stroke-width="1.0" />
<text x="491.00" y="285.60" font-size="7" text-anchor="middle" fill="#2a9fd0" font-family="Liberation Serif">TV</text>
<text x="525.35" y="360.70" font-size="13.6" text-anchor="middle" fill="#2b2b2b"  textLength="63.3" lengthAdjust="spacingAndGlyphs">Bed Room</text>
<circle cx="525.70" cy="374.90" r="14.70" fill="#eefafd" stroke="none" stroke-width="1.0" />
<circle cx="525.70" cy="374.90" r="12.70" fill="#d4f2fa" stroke="#4a7886" stroke-width="1.0" />
<circle cx="525.70" cy="374.90" r="8.30" fill="#effbfe" stroke="#4a7886" stroke-width="1.0" />
<path d="M514.3,395.7 L527.9,395.7 A6.8,9.6 0 0 1 514.3,395.7 Z" fill="#eefafd" stroke="#4a7886" stroke-width="1.0" />
<text x="525.35" y="420.70" font-size="14" text-anchor="middle" fill="#2b2b2b"  textLength="31.3" lengthAdjust="spacingAndGlyphs">(5.0J)</text>
<line x1="536.70" y1="445.00" x2="559.50" y2="451.00" stroke="#2b2b2b" stroke-width="1.0" />
<circle cx="560.80" cy="451.30" r="1.80" fill="none" stroke="#2b2b2b" stroke-width="0.9" />
<line x1="500.00" y1="447.00" x2="485.00" y2="474.80" stroke="#2b2b2b" stroke-width="1.0" />
<circle cx="484.20" cy="475.80" r="1.80" fill="none" stroke="#2b2b2b" stroke-width="0.9" />
<rect x="473.30" y="468.30" width="20.40" height="25.90" fill="none" stroke="#2b2b2b" stroke-width="1.0" />
<line x1="487.00" y1="479.50" x2="491.00" y2="478.30" stroke="#2b2b2b" stroke-width="1.0" />
<circle cx="584.00" cy="465.00" r="7.60" fill="#eefafd" stroke="none" stroke-width="1.0" />
<circle cx="584.00" cy="465.00" r="6.00" fill="#d9f4fb" stroke="#3a8aa0" stroke-width="1.0" />
<line x1="578.60" y1="462.80" x2="589.40" y2="462.80" stroke="#3a8aa0" stroke-width="0.9" />
<line x1="578.60" y1="467.20" x2="589.40" y2="467.20" stroke="#3a8aa0" stroke-width="0.9" />
<path d="M588.00,460.80 Q591.60,465.00 588.00,469.20" fill="none" stroke="#2a92bd" stroke-width="1.8" />
<text x="577.00" y="461.00" font-size="5.5" text-anchor="middle" fill="#4a8fa8" font-family="Liberation Sans">2</text>
<rect x="590.00" y="359.80" width="9.50" height="59.80" fill="#fff" stroke="#2b2b2b" stroke-width="1.0" />
<line x1="591.30" y1="360.50" x2="591.30" y2="419.00" stroke="#2b2b2b" stroke-width="0.6" />
<line x1="601.20" y1="359.80" x2="601.20" y2="419.60" stroke="#2b2b2b" stroke-width="1.0" />
<rect x="601.90" y="360.70" width="6.50" height="58.90" fill="none" stroke="#2b2b2b" stroke-width="0.9" />
<line x1="601.90" y1="363.60" x2="608.40" y2="363.60" stroke="#2b2b2b" stroke-width="0.8" />
<line x1="601.90" y1="412.10" x2="608.40" y2="412.10" stroke="#2b2b2b" stroke-width="0.8" />
<line x1="599.50" y1="359.80" x2="609.60" y2="359.80" stroke="#2b2b2b" stroke-width="0.9" />
<line x1="599.50" y1="420.20" x2="609.60" y2="420.20" stroke="#2b2b2b" stroke-width="0.9" />
<line x1="602.00" y1="412.10" x2="652.40" y2="412.10" stroke="#2b2b2b" stroke-width="1.0" />
<path d="M652.4,412.1 A50.5,50.5 0 0 0 601.9,361.6" fill="none" stroke="#2b2b2b" stroke-width="1.0" />
<path d="M5,0.2L5,1.4 M1,3L1,1.5L9,1.5L9,3 M2,3.4L8,3.4 M4.6,3.4L2.4,5.6L7.6,5.3 M6.4,4.4L7.8,5.9 M2,7.1L8,7.1 M5,5.6L5,9.3 M0.8,9.3L9.2,9.3" transform="translate(500.00,441.00) scale(0.900,0.920)" fill="none" stroke="#333" stroke-width="1.17" stroke-linecap="square"/>
<path d="M1.5,9.7L1.5,2.2L8.5,2.2L8.5,9.2L7.4,9.7 M5,0.2L5,4 M5,4L2.8,7.8 M5,4.6L7.2,7.2" transform="translate(509.00,441.00) scale(0.900,0.920)" fill="none" stroke="#333" stroke-width="1.17" stroke-linecap="square"/>
<path d="M1.4,1.4L0.7,4 M1,3.4L4,3.4 M0.4,6.1L4.2,5.5 M2.5,0.3L2.5,9.7 M5.6,0.4L4.6,3.2 M5.1,2L9.3,2L9.3,8.6L8,9.6 M6.6,2.2L4.9,7.4 M8,2.5L6.1,8.3" transform="translate(518.00,441.00) scale(0.900,0.920)" fill="none" stroke="#333" stroke-width="1.17" stroke-linecap="square"/>
<path d="M1.3,1.6L8.7,1.6 M0.4,5L9.6,5 M5,1.6L5,9.8" transform="translate(527.00,441.00) scale(0.900,0.920)" fill="none" stroke="#333" stroke-width="1.17" stroke-linecap="square"/>
<path d="M1,0.7L2,2 M0.4,4L2,4L2,8L0.4,9.6 M2,8.4Q5,9.6 9.8,9.5 M3.5,1L6,1L6,3L3.5,3 M3.5,1L3.5,7L2.8,8 M4.2,4.4L6,4.4L6,6.5L4.2,6.5Z M7.9,0.3L7.9,1.3 M6.8,1.8L9.6,1.8 M7,3.4L9.6,3.4 M6.5,5.2L9.8,5.2 M8.2,3.4L8.2,8.2" transform="translate(500.00,471.60) scale(0.900,0.920)" fill="none" stroke="#333" stroke-width="1.17" stroke-linecap="square"/>
<path d="M0.4,1.5L5,1.5 M1.8,0.4L1.8,3 M3.7,0.4L3.7,3 M1,3.5L4.5,3.5L4.5,6L1,6Z M2.75,3.5L2.75,9.2 M0.4,7.2L5,7.2 M0.4,9.2L5,9.2 M6.5,0.4L5.5,4 M6,2.5L6,9.7 M7.5,0.4L8,1.4 M6.5,2L9.7,2 M8,2L8,9.3 M6.5,4.5L9.5,4.5 M6.5,6.8L9.5,6.8 M6.5,9.3L9.8,9.3" transform="translate(509.00,471.60) scale(0.900,0.920)" fill="none" stroke="#333" stroke-width="1.17" stroke-linecap="square"/>
<path d="M1,0.5L4,0.5L4,3L1,3Z M6,0.5L9,0.5L9,3L6,3Z M0.4,5L9.6,5 M5,3L5,5L1,7 M5,5L9,7 M6.6,3.4L7.6,4.2 M1,6.9L4,6.9L4,9.6L1,9.6Z M6,6.9L9,6.9L9,9.6L6,9.6Z" transform="translate(518.00,471.60) scale(0.900,0.920)" fill="none" stroke="#333" stroke-width="1.17" stroke-linecap="square"/>
<path d="M2.5,0.5L7.5,0.5L7.5,6.5L2.5,6.5Z M2.5,2.5L7.5,2.5 M2.5,4.5L7.5,4.5 M0.4,7.4L9.6,7.4 M3,8L1,9.8 M7,8L9,9.8" transform="translate(527.00,471.60) scale(0.900,0.920)" fill="none" stroke="#333" stroke-width="1.17" stroke-linecap="square"/>
</svg>
</body></html>
